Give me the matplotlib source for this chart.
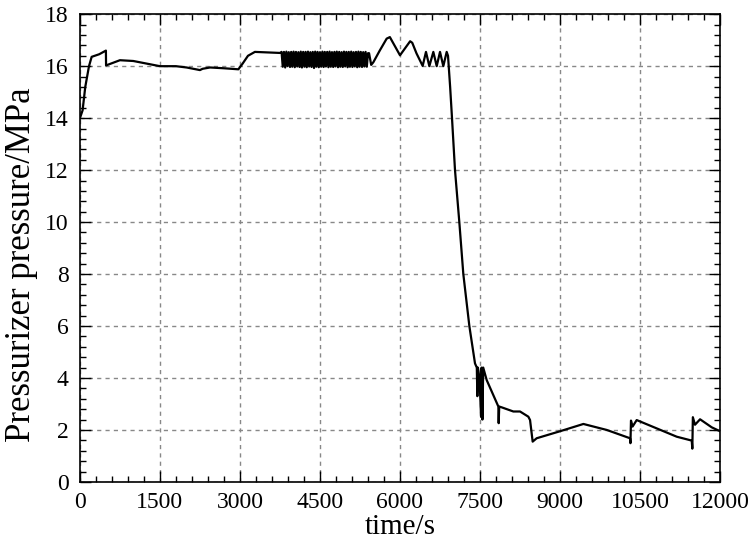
import matplotlib
matplotlib.use("Agg")
import matplotlib.pyplot as plt
from matplotlib.ticker import MultipleLocator

plt.rcParams['font.family'] = ['Liberation Serif', 'DejaVu Serif']

# ---- data ----
t_start = [0, 50, 100, 170, 220, 362, 487, 490, 750, 1000, 1500, 1800, 2000, 2250,
           2300, 2440, 2700, 2970, 3050, 3150, 3280, 3750]
p_start = [14.0, 14.3, 15.2, 16.0, 16.36, 16.46, 16.6, 16.03, 16.23, 16.2, 16.0, 16.0,
           15.95, 15.85, 15.9, 15.95, 15.92, 15.88, 16.1, 16.4, 16.55, 16.51]

t_osc = [3780, 3802, 3825, 3848, 3870, 3892, 3915, 3938, 3960, 3982, 4005, 4028, 4050,
         4072, 4095, 4118, 4140, 4162, 4185, 4208, 4230, 4252, 4275, 4298, 4320, 4342,
         4365, 4388, 4410, 4432, 4455, 4478, 4500, 4522, 4545, 4568, 4590, 4612, 4635,
         4658, 4680, 4702, 4725, 4748, 4770, 4792, 4815, 4838, 4860, 4882, 4905, 4928,
         4950, 4972, 4995, 5018, 5040, 5062, 5085, 5108, 5130, 5152, 5175, 5198, 5220,
         5242, 5265, 5288, 5310, 5332, 5355, 5378, 5400]
p_osc = [16.55, 15.98, 16.55, 15.95, 16.56, 16.0, 16.54, 15.97, 16.55, 15.98, 16.56,
         15.96, 16.55, 15.99, 16.54, 15.97, 16.56, 15.95, 16.55, 15.98, 16.55, 15.96,
         16.56, 15.99, 16.54, 15.97, 16.55, 15.93, 16.56, 15.98, 16.55, 15.96, 16.54,
         15.98, 16.56, 15.97, 16.55, 15.99, 16.55, 15.96, 16.56, 15.98, 16.54, 15.97,
         16.55, 15.99, 16.56, 15.96, 16.55, 15.98, 16.54, 15.97, 16.56, 15.99, 16.55,
         15.96, 16.55, 15.98, 16.56, 15.97, 16.54, 15.99, 16.55, 15.96, 16.56, 15.98,
         16.55, 15.97, 16.54, 15.99, 16.55, 15.98, 16.5]

t_end = [5420, 5460, 5500, 5620, 5750, 5810, 6000, 6190, 6230, 6310, 6425, 6487, 6550,
         6625, 6688, 6750, 6812, 6875, 6900, 6940, 6975, 7031, 7112, 7187, 7300, 7406,
         7440, 7450, 7460, 7490, 7520, 7530, 7545, 7560, 7625, 7844, 7850, 7860, 7906,
         8125, 8250, 8406, 8438, 8487, 8562, 9000, 9438, 9875, 10312, 10320, 10330,
         10360, 10437, 10812, 11187, 11469, 11480, 11490, 11530, 11625, 11844, 12000]
p_end = [16.5, 16.05, 16.15, 16.6, 17.06, 17.12, 16.42, 16.96, 16.9, 16.49, 16.01, 16.55,
         16.0, 16.55, 16.0, 16.55, 16.0, 16.55, 16.4, 15.2, 14.0, 12.0, 10.0, 8.0, 6.0,
         4.56, 4.4, 3.3, 4.4, 4.0, 2.5, 4.4, 2.4, 4.4, 3.92, 2.9, 2.26, 2.9, 2.87, 2.71,
         2.71, 2.51, 2.38, 1.55, 1.68, 1.95, 2.23, 2.0, 1.68, 1.49, 2.36, 2.13, 2.38,
         2.06, 1.74, 1.59, 1.28, 2.49, 2.2, 2.41, 2.1, 1.95]

x_ticks = [0, 1500, 3000, 4500, 6000, 7500, 9000, 10500, 12000]
y_ticks = [0, 2, 4, 6, 8, 10, 12, 14, 16, 18]

time = t_start + t_osc + t_end
pres = p_start + p_osc + p_end

fig = plt.figure(figsize=(7.54, 5.47), dpi=100)
ax = fig.add_axes([0.106, 0.119, 0.849, 0.855])
ax.plot(time, pres, color='black', lw=1.6)

ax.set_xlim(0, 12000)
ax.set_ylim(0, 18)
ax.set_xticks(x_ticks)
ax.set_yticks(y_ticks)
ax.xaxis.set_minor_locator(MultipleLocator(300))
ax.yaxis.set_minor_locator(MultipleLocator(0.4))
ax.tick_params(which='both', direction='in', top=True, right=True, labelsize=17)
ax.tick_params(which='major', length=8, width=1)
ax.tick_params(which='minor', length=4, width=1)
ax.tick_params(axis='x', which='major', pad=7)
ax.tick_params(axis='y', which='major', pad=8)
ax.grid(True, which='major', linestyle=(0, (3, 3)), color='#888888', lw=1)
for s in ax.spines.values():
    s.set_linewidth(1.2)

ax.set_xlabel('time/s', fontsize=21, labelpad=1)
ax.set_ylabel('Pressurizer pressure/MPa', fontsize=25)
ax.yaxis.set_label_coords(-0.066, 0.464)

fig.savefig('out.png', dpi=100)
